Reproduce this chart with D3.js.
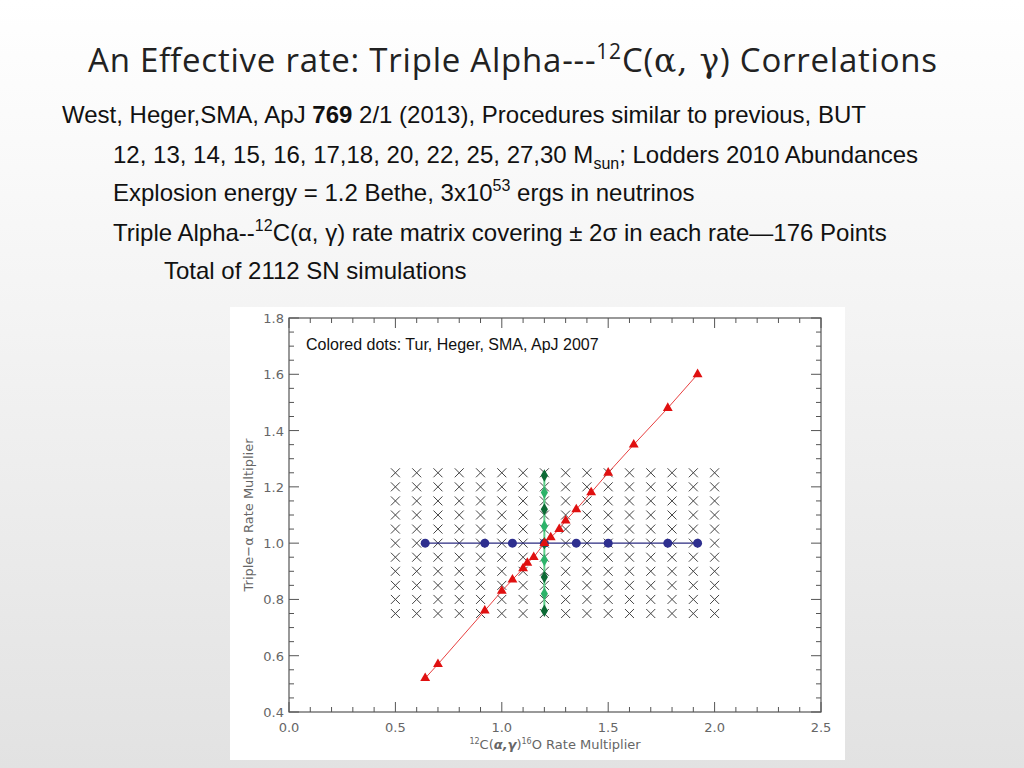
<!DOCTYPE html>
<html>
<head>
<meta charset="UTF-8">
<script src="https://d3js.org/d3.v7.min.js"></script>
<style>
  body { margin: 0; width: 1024px; height: 768px; overflow: hidden;
         background: linear-gradient(#ffffff 0%, #f4f4f4 40%, #e2e2e2 100%); }
  svg { display: block; }
</style>
</head>
<body>
<svg width="1024" height="768"></svg>
<script>
// grid of 176 rate pairs
const gridX = [0.5,0.6,0.7,0.8,0.9,1.0,1.1,1.2,1.3,1.4,1.5,1.6,1.7,1.8,1.9,2.0];
const gridY = [0.75,0.80,0.85,0.90,0.95,1.00,1.05,1.10,1.15,1.20,1.25];
// Tur, Heger, SMA 2007 points
const redX = [0.64,0.70,0.92,1.00,1.05,1.10,1.12,1.15,1.20,1.23,1.27,1.30,1.35,1.42,1.50,1.62,1.78,1.92];
const redY = [0.52,0.57,0.76,0.83,0.87,0.91,0.93,0.95,1.00,1.02,1.05,1.08,1.12,1.18,1.25,1.35,1.48,1.60];
const blueX = [0.64,0.92,1.05,1.20,1.35,1.50,1.78,1.92];
const greenY = [0.76,0.82,0.88,0.94,1.00,1.06,1.12,1.18,1.24];
const xTicks = [0.0,0.5,1.0,1.5,2.0,2.5];
const yTicks = [0.4,0.6,0.8,1.0,1.2,1.4,1.6,1.8];

const svg = d3.select("svg");

// heading
svg.append("text").attr("x", 88).attr("y", 72).attr("textLength", 849)
  .style("font-family", "Open Sans, sans-serif").style("font-size", "33px").style("fill", "#222")
  .html('An Effective rate: Triple Alpha---<tspan dy="-13" font-size="21">12</tspan><tspan dy="13">C(</tspan><tspan font-family="DejaVu Serif">α, γ</tspan>) Correlations');

const body = svg.append("g").style("font-family", "Liberation Sans, Arial, sans-serif")
  .style("font-size", "24px").style("fill", "#111");
body.append("text").attr("x", 62).attr("y", 123)
  .html('West, Heger,SMA, ApJ <tspan font-weight="bold">769</tspan> 2/1 (2013), Procedures similar to previous, BUT');
body.append("text").attr("x", 113).attr("y", 163)
  .html('12, 13, 14, 15, 16, 17,18, 20, 22, 25, 27,30 M<tspan dy="6" font-size="16">sun</tspan><tspan dy="-6">;  Lodders 2010 Abundances</tspan>');
body.append("text").attr("x", 113).attr("y", 201)
  .html('Explosion energy =  1.2 Bethe, 3x10<tspan dy="-10" font-size="16">53</tspan><tspan dy="10"> ergs in neutrinos</tspan>');
body.append("text").attr("x", 113).attr("y", 241)
  .html('Triple Alpha--<tspan dy="-10" font-size="16">12</tspan><tspan dy="10">C(α, γ) rate matrix covering ± 2σ in each rate—176 Points</tspan>');
body.append("text").attr("x", 164).attr("y", 279).text("Total of 2112 SN simulations");

// plot panel
svg.append("rect").attr("x", 230).attr("y", 307).attr("width", 615).attr("height", 453).attr("fill", "#fff");

const x = d3.scaleLinear().domain([0, 2.5]).range([289, 821]);
const y = d3.scaleLinear().domain([0.4, 1.8]).range([712, 318]);
const axisCol = "#555";

svg.append("rect").attr("x", 289).attr("y", 318).attr("width", 532).attr("height", 394)
  .attr("fill", "none").attr("stroke", axisCol).attr("stroke-width", 1.2);

const axes = svg.append("g").attr("stroke", axisCol).attr("stroke-width", 1);
d3.range(0, 2.501, 0.1).forEach(v => {
  const major = Math.abs(v * 2 - Math.round(v * 2)) < 1e-6;
  const L = major ? 10 : 5;
  axes.append("line").attr("x1", x(v)).attr("x2", x(v)).attr("y1", 712).attr("y2", 712 - L);
  axes.append("line").attr("x1", x(v)).attr("x2", x(v)).attr("y1", 318).attr("y2", 318 + L);
});
d3.range(0.4, 1.8001, 0.05).forEach(v => {
  const major = Math.abs(v * 5 - Math.round(v * 5)) < 1e-6;
  const L = major ? 10 : 5;
  axes.append("line").attr("y1", y(v)).attr("y2", y(v)).attr("x1", 289).attr("x2", 289 + L);
  axes.append("line").attr("y1", y(v)).attr("y2", y(v)).attr("x1", 821).attr("x2", 821 - L);
});

const lab = svg.append("g").style("font-family", "DejaVu Sans, sans-serif").style("font-size", "13px").style("fill", "#666");
xTicks.forEach(v => lab.append("text").attr("x", x(v)).attr("y", 732).attr("text-anchor", "middle").text(v.toFixed(1)));
yTicks.forEach(v => lab.append("text").attr("x", 284).attr("y", y(v) + 5).attr("text-anchor", "end").text(v.toFixed(1)));
lab.append("text").attr("x", 555).attr("y", 749).attr("text-anchor", "middle")
  .html('<tspan dy="-5" font-size="8">12</tspan><tspan dy="5">C(</tspan><tspan font-style="italic" font-weight="bold">α,γ</tspan>)<tspan dy="-5" font-size="8">16</tspan><tspan dy="5">O Rate Multiplier</tspan>');
lab.append("text").attr("transform", "translate(253,515) rotate(-90)").attr("text-anchor", "middle")
  .text("Triple−α Rate Multiplier");

svg.append("text").attr("x", 306).attr("y", 350)
  .style("font-family", "Liberation Sans, Arial, sans-serif").style("font-size", "16px").style("fill", "#111")
  .text("Colored dots: Tur, Heger, SMA, ApJ 2007");

// grid crosses
const cross = svg.append("g").attr("stroke", "#444").attr("stroke-width", 1);
gridX.forEach(gx => gridY.forEach(gy => {
  const cx = x(gx), cy = y(gy), s = 4.5;
  cross.append("path").attr("d", `M${cx - s},${cy - s}L${cx + s},${cy + s}M${cx - s},${cy + s}L${cx + s},${cy - s}`);
}));

// blue horizontal
svg.append("path").datum(blueX).attr("fill", "none").attr("stroke", "#2a2a80").attr("stroke-width", 1.2)
  .attr("d", d3.line().x(d => x(d)).y(() => y(1.0)));
svg.append("g").selectAll("circle").data(blueX).join("circle")
  .attr("cx", d => x(d)).attr("cy", y(1.0)).attr("r", 4.5).attr("fill", "#2e2f8f");

// green vertical
svg.append("path").datum(greenY).attr("fill", "none").attr("stroke", "#5fcf8a").attr("stroke-width", 2)
  .attr("d", d3.line().x(() => x(1.2)).y(d => y(d)));
svg.append("g").selectAll("path").data(greenY).join("path")
  .attr("transform", d => `translate(${x(1.2)},${y(d)})`)
  .attr("d", d3.symbol(d3.symbolDiamond, 45)).attr("fill", (d, i) => i % 2 ? "#2db36a" : "#0d6a35");

// red diagonal
svg.append("path").datum(redX).attr("fill", "none").attr("stroke", "#e84040").attr("stroke-width", 1)
  .attr("d", d3.line().x(d => x(d)).y((d, i) => y(redY[i])));
svg.append("g").selectAll("path").data(redX).join("path")
  .attr("transform", (d, i) => `translate(${x(d)},${y(redY[i])})`)
  .attr("d", d3.symbol(d3.symbolTriangle, 42)).attr("fill", "#e01010");
</script>
</body>
</html>
